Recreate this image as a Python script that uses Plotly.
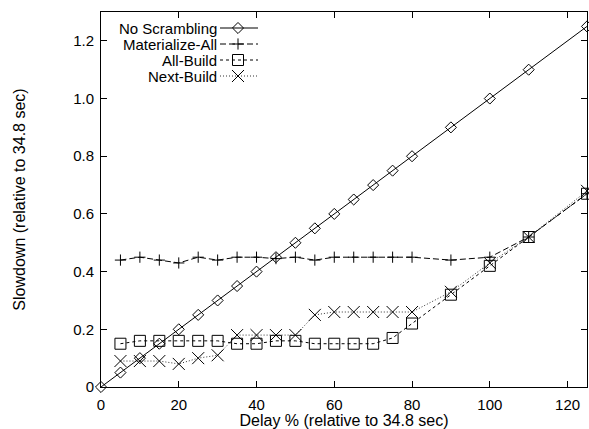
import plotly.graph_objects as go

# ---- data ----
ns_x = [0, 5, 10, 15, 20, 25, 30, 35, 40, 45, 50, 55, 60, 65, 70, 75, 80, 90, 100, 110, 125]
ns_y = [0, 0.05, 0.10, 0.15, 0.20, 0.25, 0.30, 0.35, 0.40, 0.45, 0.50, 0.55, 0.60, 0.65, 0.70, 0.75, 0.80, 0.90, 1.00, 1.10, 1.25]

ma_x = [5, 10, 15, 20, 25, 30, 35, 40, 45, 50, 55, 60, 65, 70, 75, 80, 90, 100, 110, 125]
ma_y = [0.44, 0.45, 0.44, 0.43, 0.45, 0.44, 0.45, 0.45, 0.445, 0.45, 0.44, 0.45, 0.45, 0.45, 0.45, 0.45, 0.44, 0.45, 0.52, 0.67]

ab_x = [5, 10, 15, 20, 25, 30, 35, 40, 45, 50, 55, 60, 65, 70, 75, 80, 90, 100, 110, 125]
ab_y = [0.15, 0.16, 0.16, 0.16, 0.16, 0.16, 0.15, 0.15, 0.16, 0.16, 0.15, 0.15, 0.15, 0.15, 0.17, 0.22, 0.32, 0.42, 0.52, 0.67]

nb_x = [5, 10, 15, 20, 25, 30, 35, 40, 45, 50, 55, 60, 65, 70, 75, 80, 90, 100, 110, 125]
nb_y = [0.09, 0.09, 0.09, 0.08, 0.10, 0.11, 0.18, 0.18, 0.18, 0.18, 0.25, 0.26, 0.26, 0.26, 0.26, 0.26, 0.33, 0.43, 0.52, 0.68]

names = ["No Scrambling", "Materialize-All", "All-Build", "Next-Build"]

x_ticks = [0, 20, 40, 60, 80, 100, 120]
y_ticks = [0, 0.2, 0.4, 0.6, 0.8, 1.0, 1.2]
y_tick_text = ["0", "0.2", "0.4", "0.6", "0.8", "1.0", "1.2"]

FONT = "Liberation Sans, Arial, Helvetica, sans-serif"

styles = [
    dict(symbol="diamond-open", size=8.5, dash="solid", lcolor="black"),
    dict(symbol="cross-thin-open", size=8, dash="6px,3px", lcolor="black"),
    dict(symbol="square-open", size=11, dash="3px,3px", lcolor="black"),
    dict(symbol="x-thin-open", size=12, dash="1px,2px", lcolor="#333333"),
]
series = [(ns_x, ns_y), (ma_x, ma_y), (ab_x, ab_y), (nb_x, nb_y)]

fig = go.Figure()
for (xs, ys), st, nm in zip(series, styles, names):
    fig.add_trace(go.Scatter(
        x=xs, y=ys, mode="lines+markers", name=nm, showlegend=False,
        line=dict(color=st["lcolor"], width=1, dash=st["dash"]),
        marker=dict(symbol=st["symbol"], size=st["size"], color="black",
                    line=dict(color="black", width=1)),
        cliponaxis=False,
    ))

# ---- gnuplot-style key (text left, sample right) on a pixel overlay axis ----
PW, PH = 486, 375
key_rows = [359, 343, 327, 311]
for i, (st, nm) in enumerate(zip(styles, names)):
    yy = key_rows[i]
    fig.add_trace(go.Scatter(
        x=[119, 157], y=[yy, yy], xaxis="x2", yaxis="y2", mode="lines",
        line=dict(color=st["lcolor"], width=1, dash=st["dash"]),
        showlegend=False, hoverinfo="skip"))
    fig.add_trace(go.Scatter(
        x=[137], y=[yy], xaxis="x2", yaxis="y2", mode="markers",
        marker=dict(symbol=st["symbol"], size=st["size"], color="black",
                    line=dict(color="black", width=1)),
        showlegend=False, hoverinfo="skip"))
    fig.add_annotation(x=118, y=yy, xref="x2", yref="y2", text=nm,
                       showarrow=False, xanchor="right", yanchor="middle",
                       xshift=0, font=dict(family=FONT, size=15, color="black"))

fig.update_layout(
    width=589, height=429,
    margin=dict(l=101, r=2, t=12, b=42),
    paper_bgcolor="white", plot_bgcolor="white",
    font=dict(family=FONT, size=15, color="black"),
    showlegend=False,
    xaxis=dict(range=[0, 125], tickvals=x_ticks, ticks="inside", ticklen=6,
               tickcolor="black", showline=True, linecolor="black", linewidth=1,
               mirror="ticks", showgrid=False, zeroline=False,
               ticklabelstandoff=4,
               title=dict(text="Delay % (relative to 34.8 sec)", standoff=3,
                          font=dict(size=16))),
    yaxis=dict(range=[0, 1.3], tickvals=y_ticks, ticktext=y_tick_text,
               ticks="inside", ticklen=6, tickcolor="black", showline=True,
               linecolor="black", linewidth=1, mirror="ticks", showgrid=False,
               zeroline=False, ticklabelstandoff=3,
               title=dict(text="Slowdown (relative to 34.8 sec)", standoff=43,
                          font=dict(size=16))),
    xaxis2=dict(range=[0, PW], overlaying="x", visible=False, fixedrange=True),
    yaxis2=dict(range=[0, PH], overlaying="y", visible=False, fixedrange=True),
)

fig.write_html("out.html", post_script="document.body.style.margin='0';",
               config={"displayModeBar": False})
